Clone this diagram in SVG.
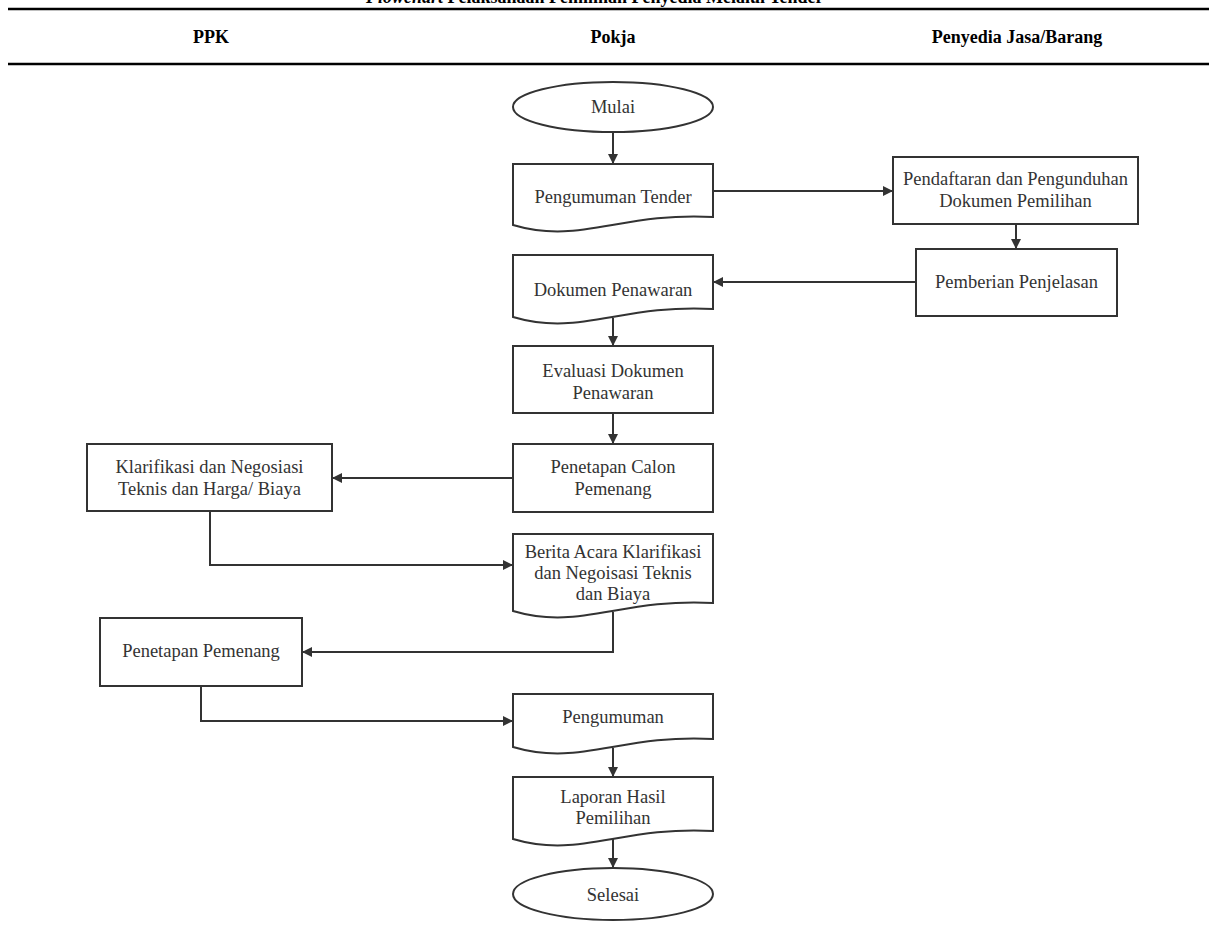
<svg xmlns="http://www.w3.org/2000/svg" width="1209" height="933" viewBox="0 0 1209 933">
<style>
.shape{fill:#fff;stroke:#333;stroke-width:2}
.lbl{font-family:"Liberation Serif","Times New Roman",serif;font-size:18.5px;fill:#333;text-anchor:middle}
.hdr{font-family:"Liberation Serif","Times New Roman",serif;font-size:18px;font-weight:bold;fill:#000;text-anchor:middle}
.conn{fill:none;stroke:#333;stroke-width:2}
</style>
<defs>
<marker id="arr" viewBox="0 0 10 10" refX="10" refY="5" markerWidth="5" markerHeight="5" markerUnits="strokeWidth" orient="auto">
<path d="M0,0 L10,5 L0,10 z" fill="#333"/>
</marker>
</defs>
<rect width="1209" height="933" fill="#fff"/>
<g id="header">
<text x="366" y="3" font-family="Liberation Serif, serif" font-size="18" font-weight="bold" fill="#000"><tspan font-style="italic">Flowchart</tspan> Pelaksanaan Pemilihan Penyedia Melalui Tender</text>
<line x1="8" y1="9" x2="1209" y2="9" stroke="#000" stroke-width="2.5"/>
<text class="hdr" x="211" y="43">PPK</text>
<text class="hdr" x="613" y="43">Pokja</text>
<text class="hdr" x="1017" y="43">Penyedia Jasa/Barang</text>
<line x1="8" y1="64" x2="1209" y2="64" stroke="#000" stroke-width="2.5"/>
</g>
<g id="connectors">
<path class="conn" marker-end="url(#arr)" d="M613,132 V164"/>
<path class="conn" marker-end="url(#arr)" d="M713,191 H893"/>
<path class="conn" marker-end="url(#arr)" d="M1016,224 V249"/>
<path class="conn" marker-end="url(#arr)" d="M916,282 H713"/>
<path class="conn" marker-end="url(#arr)" d="M613,318 V346"/>
<path class="conn" marker-end="url(#arr)" d="M613,413 V444"/>
<path class="conn" marker-end="url(#arr)" d="M513,478 H332"/>
<path class="conn" marker-end="url(#arr)" d="M210,511 V565 H513"/>
<path class="conn" marker-end="url(#arr)" d="M613,612 V652 H302"/>
<path class="conn" marker-end="url(#arr)" d="M201,686 V721 H513"/>
<path class="conn" marker-end="url(#arr)" d="M613,748 V777"/>
<path class="conn" marker-end="url(#arr)" d="M613,839 V868"/>
</g>
<g id="mulai">
<ellipse class="shape" cx="613" cy="107" rx="100" ry="25"/>
<text class="lbl" x="613" y="113">Mulai</text>
</g>
<g id="pengumuman-tender">
<path class="shape" d="M513,164 H713 V217 C620,212 580,245 513,225 Z"/>
<text class="lbl" x="613" y="203">Pengumuman Tender</text>
</g>
<g id="pendaftaran">
<rect class="shape" x="893" y="157" width="245" height="67"/>
<text class="lbl" x="1015.5" y="185">Pendaftaran dan Pengunduhan</text>
<text class="lbl" x="1015.5" y="207">Dokumen Pemilihan</text>
</g>
<g id="pemberian">
<rect class="shape" x="916" y="249" width="201" height="67"/>
<text class="lbl" x="1016.5" y="288">Pemberian Penjelasan</text>
</g>
<g id="dokumen-penawaran">
<path class="shape" d="M513,255 H713 V309 C620,304 580,337 513,317 Z"/>
<text class="lbl" x="613" y="296">Dokumen Penawaran</text>
</g>
<g id="evaluasi">
<rect class="shape" x="513" y="346" width="200" height="67"/>
<text class="lbl" x="613" y="377">Evaluasi Dokumen</text>
<text class="lbl" x="613" y="399">Penawaran</text>
</g>
<g id="penetapan-calon">
<rect class="shape" x="513" y="444" width="200" height="68"/>
<text class="lbl" x="613" y="473">Penetapan Calon</text>
<text class="lbl" x="613" y="495">Pemenang</text>
</g>
<g id="klarifikasi">
<rect class="shape" x="87" y="444" width="245" height="67"/>
<text class="lbl" x="209.5" y="473">Klarifikasi dan Negosiasi</text>
<text class="lbl" x="209.5" y="495">Teknis dan Harga/ Biaya</text>
</g>
<g id="berita-acara">
<path class="shape" d="M513,534 H713 V603 C620,598 580,631 513,611 Z"/>
<text class="lbl" x="613" y="558">Berita Acara Klarifikasi</text>
<text class="lbl" x="613" y="579">dan Negoisasi Teknis</text>
<text class="lbl" x="613" y="600">dan Biaya</text>
</g>
<g id="penetapan-pemenang">
<rect class="shape" x="100" y="618" width="202" height="68"/>
<text class="lbl" x="201" y="657">Penetapan Pemenang</text>
</g>
<g id="pengumuman">
<path class="shape" d="M513,694 H713 V739 C620,734 580,767 513,747 Z"/>
<text class="lbl" x="613" y="723">Pengumuman</text>
</g>
<g id="laporan">
<path class="shape" d="M513,777 H713 V831 C620,826 580,859 513,839 Z"/>
<text class="lbl" x="613" y="803">Laporan Hasil</text>
<text class="lbl" x="613" y="824">Pemilihan</text>
</g>
<g id="selesai">
<ellipse class="shape" cx="613" cy="894" rx="100" ry="26"/>
<text class="lbl" x="613" y="901">Selesai</text>
</g>
</svg>
